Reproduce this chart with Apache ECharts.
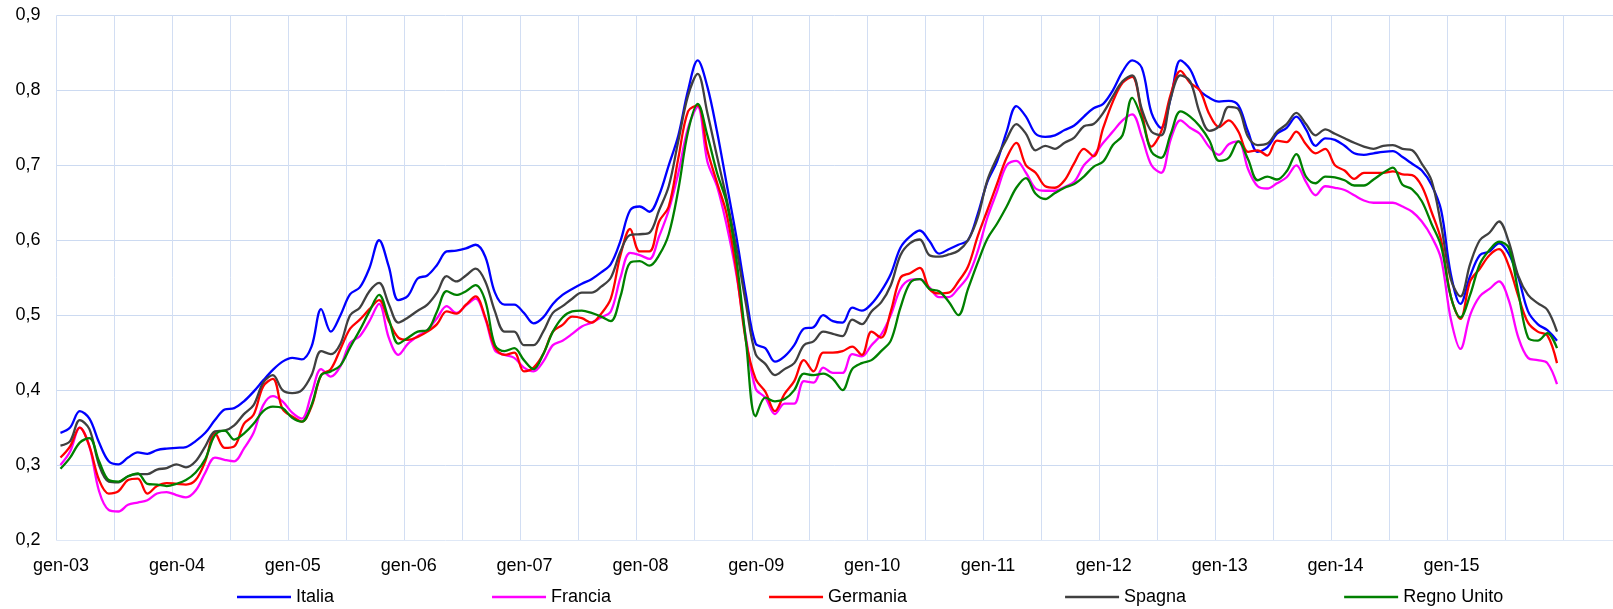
<!DOCTYPE html>
<html>
<head>
<meta charset="utf-8">
<script src="https://cdn.jsdelivr.net/npm/echarts@6/dist/echarts.min.js"></script>
<style>
html,body{margin:0;padding:0;background:#fff;}
#chart{width:1613px;height:609px;}
</style>
</head>
<body>
<div id="chart"></div>
<script>
// Monthly values, gen-03 ... dic-15
const tickLabels = ['gen-03','gen-04','gen-05','gen-06','gen-07','gen-08','gen-09','gen-10','gen-11','gen-12','gen-13','gen-14','gen-15'];
const seriesNames = ['Italia','Francia','Germania','Spagna','Regno Unito'];

const italia = [
0.343,0.350,0.372,0.362,0.330,0.305,0.301,0.310,0.317,0.315,0.320,0.322,0.323,0.324,0.332,0.343,0.360,0.374,0.376,0.385,0.398,0.413,0.427,0.438,0.443,
0.441,0.458,0.508,0.478,0.500,0.528,0.537,0.563,0.600,0.565,0.520,0.526,0.549,0.553,0.567,0.585,0.586,0.589,0.594,0.578,0.530,0.514,0.514,0.503,0.489,0.497,0.515,0.527,0.535,0.542,
0.548,0.557,0.568,0.599,0.640,0.645,0.638,0.660,0.700,0.740,0.800,0.840,0.805,0.745,0.675,0.605,0.527,0.462,0.456,0.438,0.445,0.460,0.482,0.484,0.500,0.492,0.490,0.510,0.506,
0.515,0.532,0.555,0.590,0.605,0.613,0.599,0.582,0.588,0.594,0.600,0.635,0.678,0.705,0.745,0.779,0.765,0.742,0.738,0.740,0.747,0.753,0.765,0.776,0.782,0.800,0.825,0.840,
0.830,0.770,0.750,0.790,0.840,0.828,0.800,0.790,0.785,0.786,0.780,0.745,0.718,0.724,0.742,0.750,0.765,0.748,0.726,0.736,0.734,0.726,0.716,0.714,0.716,0.718,0.719,0.711,0.702,0.693,
0.674,0.640,0.555,0.515,0.552,0.580,0.585,0.596,0.582,0.550,0.505,0.488,0.480,0.466];

const francia = [
0.300,0.318,0.350,0.325,0.265,0.240,0.238,0.247,0.250,0.253,0.262,0.264,0.260,0.257,0.266,0.290,0.310,0.307,0.305,0.322,0.343,0.380,0.392,0.385,0.370,
0.362,0.395,0.428,0.418,0.432,0.463,0.472,0.492,0.515,0.470,0.447,0.462,0.472,0.480,0.496,0.512,0.503,0.513,0.522,0.495,0.453,0.447,0.443,0.430,0.425,0.438,0.460,0.466,0.475,0.485,
0.490,0.497,0.505,0.550,0.583,0.580,0.575,0.605,0.640,0.690,0.750,0.778,0.705,0.672,0.620,0.555,0.470,0.402,0.390,0.368,0.382,0.382,0.412,0.410,0.430,0.423,0.423,0.448,0.445,
0.460,0.474,0.500,0.535,0.547,0.548,0.537,0.524,0.524,0.536,0.552,0.585,0.630,0.665,0.700,0.706,0.690,0.669,0.666,0.666,0.671,0.678,0.700,0.713,0.730,0.745,0.760,0.768,
0.738,0.700,0.690,0.735,0.760,0.750,0.742,0.724,0.714,0.728,0.732,0.695,0.672,0.669,0.676,0.684,0.700,0.678,0.660,0.672,0.670,0.667,0.660,0.653,0.650,0.650,0.650,0.645,0.638,0.625,
0.605,0.575,0.495,0.455,0.500,0.525,0.535,0.545,0.520,0.470,0.443,0.440,0.436,0.408];

const germania = [
0.310,0.325,0.350,0.325,0.280,0.262,0.265,0.280,0.282,0.262,0.272,0.276,0.275,0.274,0.280,0.305,0.343,0.323,0.325,0.355,0.367,0.405,0.415,0.375,0.365,
0.358,0.378,0.420,0.428,0.455,0.482,0.494,0.508,0.520,0.492,0.470,0.467,0.471,0.478,0.488,0.505,0.502,0.514,0.525,0.497,0.457,0.447,0.450,0.425,0.430,0.448,0.478,0.487,0.498,0.496,
0.490,0.502,0.522,0.580,0.615,0.585,0.585,0.625,0.645,0.710,0.772,0.780,0.720,0.677,0.635,0.560,0.465,0.415,0.398,0.372,0.395,0.412,0.440,0.425,0.450,0.450,0.452,0.458,0.447,
0.478,0.470,0.505,0.550,0.556,0.563,0.535,0.529,0.530,0.545,0.565,0.605,0.640,0.675,0.710,0.730,0.700,0.690,0.672,0.670,0.680,0.703,0.722,0.712,0.750,0.785,0.810,0.818,
0.770,0.725,0.745,0.795,0.826,0.810,0.800,0.768,0.751,0.760,0.745,0.718,0.720,0.713,0.733,0.731,0.745,0.728,0.716,0.722,0.700,0.693,0.682,0.690,0.690,0.690,0.692,0.688,0.687,0.672,
0.638,0.600,0.525,0.495,0.545,0.562,0.580,0.588,0.566,0.525,0.490,0.478,0.473,0.436];

const spagna = [
0.326,0.332,0.360,0.348,0.300,0.278,0.277,0.285,0.288,0.288,0.294,0.296,0.301,0.297,0.305,0.325,0.345,0.346,0.353,0.368,0.380,0.410,0.420,0.400,0.396,
0.400,0.420,0.452,0.448,0.462,0.500,0.510,0.532,0.543,0.515,0.490,0.497,0.506,0.514,0.530,0.552,0.545,0.553,0.562,0.545,0.505,0.478,0.478,0.460,0.460,0.478,0.503,0.512,0.522,0.530,
0.530,0.538,0.550,0.585,0.607,0.608,0.610,0.640,0.672,0.733,0.793,0.822,0.770,0.712,0.655,0.590,0.515,0.448,0.435,0.420,0.428,0.436,0.460,0.465,0.478,0.475,0.472,0.494,0.488,
0.505,0.517,0.540,0.580,0.596,0.601,0.580,0.578,0.581,0.586,0.600,0.630,0.680,0.710,0.735,0.755,0.742,0.720,0.726,0.722,0.730,0.737,0.752,0.755,0.770,0.792,0.812,0.820,
0.775,0.745,0.740,0.790,0.820,0.812,0.770,0.746,0.752,0.778,0.775,0.738,0.727,0.729,0.745,0.755,0.770,0.755,0.740,0.748,0.742,0.736,0.730,0.725,0.722,0.726,0.727,0.722,0.720,0.702,
0.680,0.620,0.548,0.525,0.568,0.600,0.610,0.625,0.598,0.552,0.527,0.516,0.507,0.478];

const regnoUnito = [
0.295,0.310,0.330,0.336,0.305,0.280,0.278,0.285,0.289,0.275,0.274,0.272,0.275,0.280,0.290,0.308,0.340,0.346,0.334,0.342,0.355,0.372,0.378,0.376,0.363,
0.358,0.380,0.420,0.425,0.433,0.457,0.480,0.505,0.527,0.495,0.462,0.470,0.478,0.480,0.505,0.532,0.527,0.532,0.540,0.519,0.460,0.452,0.456,0.440,0.428,0.448,0.478,0.497,0.505,0.506,
0.503,0.498,0.492,0.525,0.570,0.572,0.566,0.580,0.608,0.668,0.745,0.782,0.740,0.690,0.650,0.575,0.465,0.365,0.390,0.385,0.388,0.400,0.422,0.420,0.422,0.415,0.400,0.428,0.436,
0.440,0.452,0.466,0.510,0.543,0.548,0.535,0.532,0.518,0.500,0.535,0.570,0.602,0.622,0.645,0.670,0.683,0.662,0.655,0.663,0.670,0.675,0.685,0.698,0.705,0.727,0.740,0.790,
0.762,0.718,0.710,0.742,0.772,0.765,0.752,0.733,0.706,0.710,0.732,0.708,0.680,0.685,0.681,0.692,0.715,0.685,0.676,0.685,0.684,0.680,0.673,0.673,0.681,0.690,0.697,0.674,0.668,0.652,
0.622,0.592,0.525,0.497,0.527,0.568,0.587,0.598,0.590,0.530,0.470,0.466,0.476,0.456];

const seriesData = [italia, francia, germania, spagna, regnoUnito];
const colors = ['#0000FF', '#FF00FF', '#FF0000', '#404040', '#008000'];

const FONT = "'Liberation Sans', Arial, sans-serif";
const chart = echarts.init(document.getElementById('chart'), null, {renderer: 'canvas'});

const option = {
  animation: false,
  backgroundColor: '#ffffff',
  textStyle: {fontFamily: FONT},
  grid: {left: 56.6, right: 0, top: 15.4, bottom: 69, containLabel: false},
  xAxis: {
    type: 'value',
    min: 0,
    max: 161.2,
    interval: 6,
    axisLine: {show: true, lineStyle: {color: '#DFE8F6', width: 1}},
    axisTick: {show: false},
    splitLine: {show: true, lineStyle: {color: '#D2DEF3', width: 1}},
    axisLabel: {
      show: true,
      color: '#000',
      fontSize: 18,
      fontFamily: FONT,
      margin: 17,
      padding: [0, 0, 0, 9],
      showMaxLabel: false,
      formatter: function (v) {
        const r = Math.round(v);
        if (Math.abs(v - r) > 1e-6 || r % 12 !== 0) return '';
        return tickLabels[r / 12] || '';
      }
    }
  },
  yAxis: {
    type: 'value',
    min: 0.2,
    max: 0.9,
    interval: 0.1,
    axisLine: {show: false},
    axisTick: {show: false},
    splitLine: {show: true, showMinLine: false, lineStyle: {color: '#CCDAF1', width: 1}},
    axisLabel: {
      color: '#000',
      fontSize: 18,
      fontFamily: FONT,
      margin: 16,
      formatter: function (v) { return v.toFixed(1).replace('.', ','); }
    }
  },
  legend: {
    left: 237,
    top: 588,
    padding: 0,
    itemGap: 158,
    itemWidth: 54,
    itemHeight: 2.5,
    icon: 'rect',
    textStyle: {color: '#000', fontSize: 18, fontFamily: FONT, padding: [0, 0, 0, 0]},
    data: seriesNames
  },
  series: seriesNames.map(function (name, k) {
    return {
      name: name,
      type: 'line',
      showSymbol: false,
      symbol: 'none',
      smooth: 0.35,
      color: colors[k],
      lineStyle: {color: colors[k], width: 2.3},
      data: seriesData[k].map(function (v, i) { return [i + 0.4, v]; })
    };
  })
};
chart.setOption(option);
</script>
</body>
</html>
